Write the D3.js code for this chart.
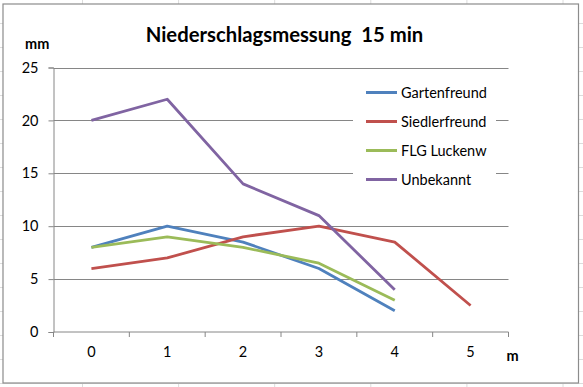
<!DOCTYPE html>
<html>
<head>
<meta charset="utf-8">
<script src="https://cdn.jsdelivr.net/npm/d3@7"></script>
<style>
  html, body { margin: 0; padding: 0; background: #fff; }
  svg { display: block; }
  text { white-space: pre; }
</style>
</head>
<body>
<svg id="chart" width="583" height="387"></svg>
<script>
const categories = ["0", "1", "2", "3", "4", "5"];
const seriesNames = ["Gartenfreund", "Siedlerfreund", "FLG Luckenw", "Unbekannt"];
const gartenfreund = [8, 10, 8.5, 6, 2];
const siedlerfreund = [6, 7, 9, 10, 8.5, 2.5];
const flgLuckenw = [8, 9, 8, 6.5, 3];
const unbekannt = [20, 22, 14, 11, 4];
const yTicks = [0, 5, 10, 15, 20, 25];
const colors = ["#4F81BD", "#C0504D", "#9BBB59", "#8064A2"];
const title = "Niederschlagsmessung  15 min";
const yUnit = "mm";
const xUnit = "m";

const seriesValues = [gartenfreund, siedlerfreund, flgLuckenw, unbekannt];

const svg = d3.select("#chart");
const font = "Lato, 'Open Sans', sans-serif";

// Spreadsheet cell grid behind the chart object
const cellCols = d3.range(0, 7).map(i => 82.5 + i * 96.1);
const cellRows = d3.range(0, 17).map(i => -1 + i * 24);
svg.append("g").selectAll("line.c").data(cellCols).join("line")
  .attr("x1", d => d).attr("x2", d => d).attr("y1", 0).attr("y2", 387)
  .attr("stroke", "#dcdcdc").attr("stroke-width", 1);
svg.append("g").selectAll("line.r").data(cellRows).join("line")
  .attr("x1", 0).attr("x2", 583).attr("y1", d => d + 0.5).attr("y2", d => d + 0.5)
  .attr("stroke", "#dcdcdc").attr("stroke-width", 1);

// Chart area
svg.append("rect")
  .attr("x", 3).attr("y", 4).attr("width", 575.5).attr("height", 379)
  .attr("fill", "#fff").attr("stroke", "#8c8c8c").attr("stroke-width", 1.2);

const plot = { left: 53.5, right: 508.5, top: 67.5, bottom: 332 };

const x = d3.scaleBand().domain(categories).range([plot.left, plot.right]);
const y = d3.scaleLinear().domain([0, 25]).range([plot.bottom, plot.top]);

// Gridlines
svg.append("g").selectAll("line").data(yTicks.filter(d => d > 0)).join("line")
  .attr("x1", plot.left).attr("x2", plot.right)
  .attr("y1", d => Math.round(y(d)) + 0.5).attr("y2", d => Math.round(y(d)) + 0.5)
  .attr("stroke", "#868686").attr("stroke-width", 1);

// Y axis
const yAxis = svg.append("g")
  .attr("transform", `translate(${plot.left},0)`)
  .call(d3.axisLeft(y).tickValues(yTicks).tickSize(5).tickPadding(10));
yAxis.select(".domain").attr("stroke", "#868686");
yAxis.selectAll(".tick line").attr("stroke", "#868686");
yAxis.selectAll(".tick text").attr("font-family", font).attr("font-size", 14.5).attr("fill", "#000");

// X axis with ticks between categories
const xAxisG = svg.append("g").attr("transform", `translate(0,${plot.bottom})`);
xAxisG.append("line").attr("x1", plot.left).attr("x2", plot.right).attr("y1", 0).attr("y2", 0)
  .attr("stroke", "#868686");
const boundaries = categories.map(c => x(c)).concat([x(categories[categories.length - 1]) + x.bandwidth()]);
xAxisG.selectAll("line.tk").data(boundaries).join("line").attr("class", "tk")
  .attr("x1", d => d).attr("x2", d => d).attr("y1", 0).attr("y2", 5)
  .attr("stroke", "#868686");
xAxisG.selectAll("text").data(categories).join("text")
  .attr("x", d => x(d) + x.bandwidth() / 2).attr("y", 25)
  .attr("text-anchor", "middle")
  .attr("font-family", font).attr("font-size", 14.5).attr("fill", "#000")
  .text(d => d);

// Legend
const legend = svg.append("g");
legend.append("rect").attr("x", 353).attr("y", 76).attr("width", 143).attr("height", 118).attr("fill", "#fff");
seriesNames.forEach((name, i) => {
  const ly = 92.5 + i * 29;
  legend.append("line").attr("x1", 366).attr("x2", 397).attr("y1", ly).attr("y2", ly)
    .attr("stroke", colors[i]).attr("stroke-width", 3);
  legend.append("text").attr("x", 401).attr("y", ly + 5)
    .attr("font-family", font).attr("font-size", 14.5).attr("fill", "#000").text(name);
});

// Lines
const line = d3.line()
  .x((d, i) => x(categories[i]) + x.bandwidth() / 2)
  .y(d => y(d));
svg.append("g").selectAll("path").data(seriesValues).join("path")
  .attr("d", d => line(d))
  .attr("fill", "none")
  .attr("stroke", (d, i) => colors[i])
  .attr("stroke-width", 2.8)
  .attr("stroke-linejoin", "round");

// Titles
svg.append("text").attr("x", 284.5).attr("y", 42).attr("text-anchor", "middle")
  .attr("font-family", font).attr("font-weight", "bold").attr("font-size", 20.3)
  .attr("fill", "#000").text(title);
svg.append("text").attr("x", 25).attr("y", 49)
  .attr("font-family", font).attr("font-weight", "bold").attr("font-size", 14.5)
  .attr("fill", "#000").text(yUnit);
svg.append("text").attr("x", 506.5).attr("y", 361)
  .attr("font-family", font).attr("font-weight", "bold").attr("font-size", 14.5)
  .attr("fill", "#000").text(xUnit);
</script>
</body>
</html>
